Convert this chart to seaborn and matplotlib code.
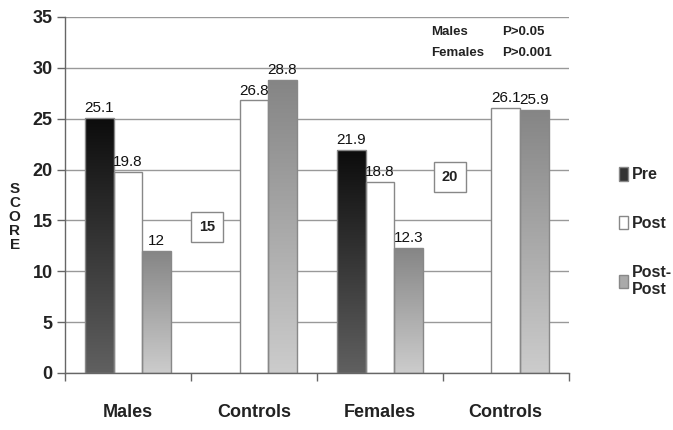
import numpy as np
import pandas as pd
import seaborn as sns
import matplotlib
matplotlib.use("Agg")
import matplotlib.pyplot as plt
from matplotlib.colors import LinearSegmentedColormap

# ---- data ----
groups = ["Males", "Controls_M", "Females", "Controls_F"]
group_labels = ["Males", "Controls", "Females", "Controls"]
series = ["Pre", "Post", "Post-Post"]
pre = [25.1, np.nan, 21.9, np.nan]
post = [19.8, 26.8, 18.8, 26.1]
postpost = [12.0, 28.8, 12.3, 25.9]
yticks = [0, 5, 10, 15, 20, 25, 30, 35]
box_labels = ["15", "20"]
pvals_names = ["Males", "Females"]
pvals_text = ["P>0.05", "P>0.001"]

rows = []
for s, vals in zip(series, [pre, post, postpost]):
    for g, v in zip(groups, vals):
        rows.append({"group": g, "series": s, "score": v})
df = pd.DataFrame(rows)

sns.set_theme(style="white")
NARROW = ["Liberation Sans Narrow", "Liberation Sans", "DejaVu Sans"]
ARIAL = ["Liberation Sans", "DejaVu Sans"]
plt.rcParams["font.family"] = NARROW

fig = plt.figure(figsize=(6.73, 4.30), dpi=100)
ax = fig.add_axes([0.0966, 0.1326, 0.7484, 0.8279])

palette = {"Pre": "#333333", "Post": "#ffffff", "Post-Post": "#aaaaaa"}
sns.barplot(data=df, x="group", y="score", hue="series", order=groups,
            hue_order=series, palette=palette, width=0.68, gap=0,
            edgecolor="#888888", linewidth=1, errorbar=None, ax=ax,
            saturation=1)

grads = {
    "Pre": ["#0c0c0c", "#606060"],
    "Post": ["#ffffff", "#ffffff"],
    "Post-Post": ["#858585", "#cccccc"],
}
grad = np.linspace(0, 1, 256).reshape(-1, 1)
for s, cont in zip(series, ax.containers):
    cmap = LinearSegmentedColormap.from_list(s, grads[s])
    for bar in cont:
        h = bar.get_height()
        if not np.isfinite(h) or h == 0:
            continue
        x0, y0 = bar.get_x(), bar.get_y()
        w = bar.get_width()
        im = ax.imshow(grad, extent=[x0, x0 + w, y0, y0 + h], aspect="auto",
                       cmap=cmap, origin="upper", zorder=0.9)
        im.set_clip_path(bar)
        bar.set_facecolor("none")
        bar.set_zorder(1)
    vals = df[df.series == s].set_index("group").loc[groups, "score"].values
    labels = [f"{v:g}" for v in vals if np.isfinite(v)]
    ax.bar_label(cont, labels=labels[:len(cont)], padding=2, fontsize=11,
                 color="#111111", family=NARROW)

ax.set_xlim(-0.5, 3.5)
ax.set_ylim(0, 35)
ax.set_yticks(yticks)
ax.set_yticklabels([str(t) for t in yticks], fontsize=13, fontweight="bold",
                   color="#222222")
ax.set_xticks(range(len(groups)))
ax.set_xticklabels(group_labels, fontsize=13, fontweight="bold", color="#222222")
ax.set_xticks(np.arange(-0.5, 4, 1), minor=True)
ax.tick_params(axis="x", which="major", length=0, pad=22)
ax.tick_params(axis="x", which="minor", length=6, width=1, color="#666666",
               direction="out", bottom=True)
ax.tick_params(axis="y", which="major", length=6, width=1, color="#666666",
               direction="out", left=True, pad=3)
ax.set_xlabel("")
ax.set_ylabel("")
ax.set_axisbelow(True)
ax.yaxis.grid(True, color="#999999", linewidth=1)
ax.xaxis.grid(False)
for sp in ["top", "right"]:
    ax.spines[sp].set_visible(False)
for sp in ["left", "bottom"]:
    ax.spines[sp].set_color("#666666")
    ax.spines[sp].set_linewidth(1)

fig.text(0.022, 0.495, "S\nC\nO\nR\nE", fontsize=11, fontweight="bold",
         ha="center", va="center", linespacing=1.0, family=ARIAL,
         color="#222222")

for txt, (x, y) in zip(box_labels, [(0.627, 14.35), (2.556, 19.27)]):
    ax.text(x, y, txt, ha="center", va="center", fontsize=10.5,
            fontweight="bold", family=ARIAL, color="#222222", zorder=5,
            bbox=dict(boxstyle="square,pad=0.55", fc="white", ec="#888888",
                      lw=1))

for name, pv, y in zip(pvals_names, pvals_text, [33.5, 31.5]):
    ax.text(2.41, y, name, ha="left", va="center", fontsize=9.5,
            fontweight="bold", family=ARIAL, color="#222222")
    ax.text(2.97, y, pv, ha="left", va="center", fontsize=9.5,
            fontweight="bold", family=ARIAL, color="#222222")

leg = ax.get_legend()
handles = leg.legend_handles
leg.remove()
ax.legend(handles, ["Pre", "Post", "Post-\nPost"], loc="center left",
          bbox_to_anchor=(0.898, 0.46), bbox_transform=fig.transFigure,
          frameon=False, handlelength=0.6, handleheight=0.9,
          handletextpad=0.25, labelspacing=2.1,
          prop={"family": NARROW, "weight": "bold", "size": 11.5})

fig.savefig("out.png", dpi=100)
